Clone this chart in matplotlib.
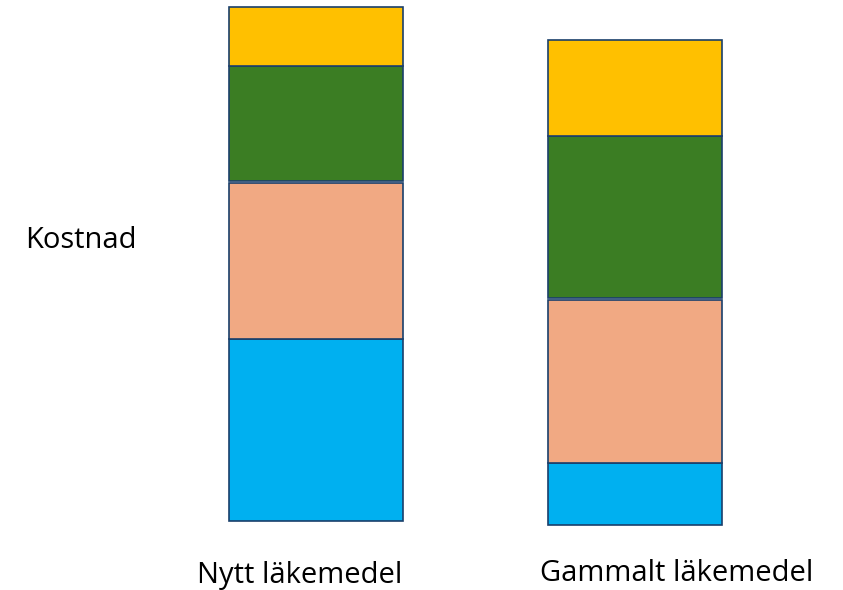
import matplotlib.pyplot as plt

# segment heights (cost units), bottom to top
categories = ["Nytt läkemedel", "Gammalt läkemedel"]
blue = [182, 62]
salmon = [156, 163]
green = [115, 162]
yellow = [59, 96]
base = [69, 65]

colors = ["#00B0F0", "#F1A983", "#3B7D23", "#FFC000"]
edge = "#1A3F6B"

fig = plt.figure(figsize=(8.43, 5.90), dpi=100)
ax = fig.add_axes([0, 0, 1, 1])
ax.set_xlim(0, 843)
ax.set_ylim(0, 590)
ax.axis("off")

xpos = [315.7, 634.5]
width = 174
gaps = [0, 2, 0]  # small white gap between salmon and green

for i in range(len(categories)):
	bottom = base[i]
	segs = [blue[i], salmon[i], green[i], yellow[i]]
	for j, h in enumerate(segs):
		ax.bar(xpos[i], h, width=width, bottom=bottom, color=colors[j],
			   edgecolor=edge, linewidth=1.2)
		bottom += h
		if j < len(gaps):
			bottom += gaps[j]

font = "Open Sans"
fig.text(81 / 843, 1 - 248 / 590, "Kostnad", ha="center", va="baseline",
		 fontsize=21, family=font)
fig.text(300 / 843, 1 - 583 / 590, categories[0], ha="center", va="baseline",
		 fontsize=21, family=font)
fig.text(677 / 843, 1 - 581 / 590, categories[1], ha="center", va="baseline",
		 fontsize=21, family=font)

plt.savefig("out.png", dpi=100)
